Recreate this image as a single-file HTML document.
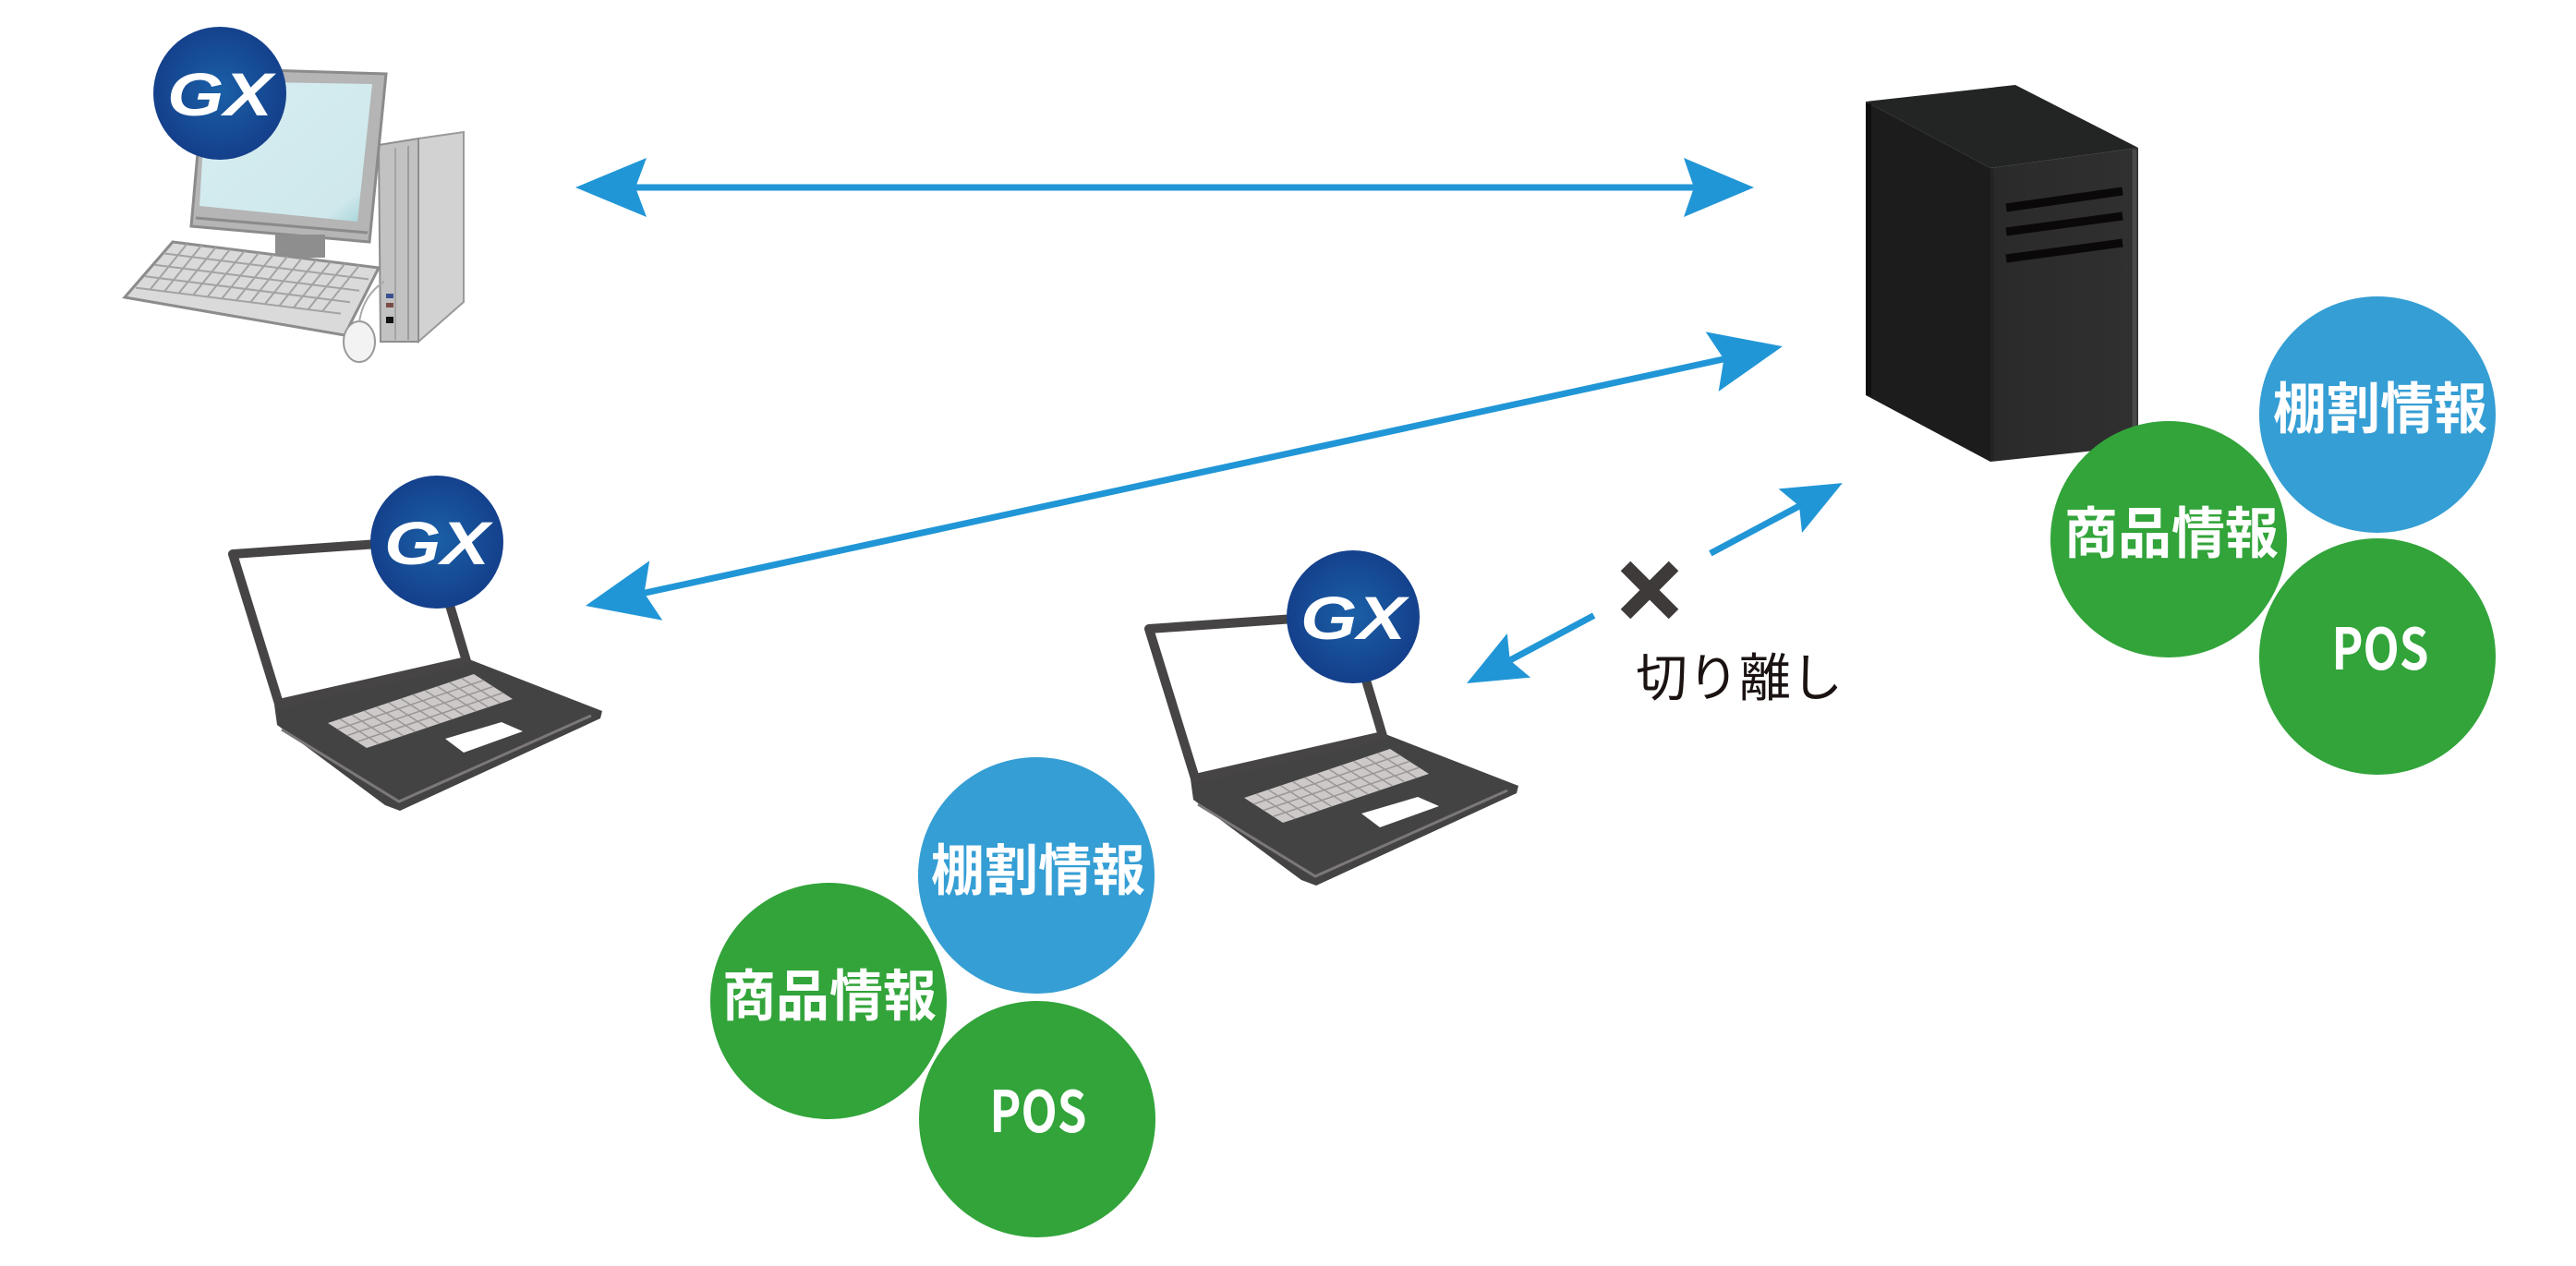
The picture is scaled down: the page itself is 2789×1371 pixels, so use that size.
<!DOCTYPE html>
<html><head><meta charset="utf-8">
<style>html,body{margin:0;padding:0;background:#fff;}svg{display:block;}</style>
</head>
<body>
<svg width="2789" height="1371" viewBox="0 0 2789 1371" xmlns="http://www.w3.org/2000/svg">
<defs>
  <radialGradient id="gx" cx="50%" cy="48%" r="55%">
    <stop offset="0" stop-color="#1a60a7"/>
    <stop offset="1" stop-color="#143d89"/>
  </radialGradient>
  <linearGradient id="scr" x1="0" y1="0" x2="1" y2="1">
    <stop offset="0" stop-color="#d6eef2"/>
    <stop offset="0.85" stop-color="#cfe8ec"/>
    <stop offset="1" stop-color="#9fd0d6"/>
  </linearGradient>
  <linearGradient id="srvFront" x1="0" y1="0" x2="1" y2="0">
    <stop offset="0" stop-color="#2a2a2a"/>
    <stop offset="1" stop-color="#303030"/>
  </linearGradient>
</defs>
<rect width="2789" height="1371" fill="#fff"/>

<!-- ===== Desktop PC ===== -->
<g>
  <!-- tower side -->
  <polygon points="453,150 502,143 502,327 453,370" fill="#d2d2d2" stroke="#9a9a9a" stroke-width="2"/>
  <!-- tower front strip -->
  <polygon points="410,157 453,150 453,370 412,370" fill="#c2c2c2" stroke="#8e8e8e" stroke-width="2"/>
  <line x1="428" y1="160" x2="428" y2="368" stroke="#a5a5a5" stroke-width="2"/>
  <line x1="442" y1="158" x2="442" y2="368" stroke="#9c9c9c" stroke-width="2"/>
  <rect x="418" y="318" width="8" height="5" fill="#3a4f90"/>
  <rect x="418" y="328" width="8" height="5" fill="#7a4a48"/>
  <rect x="418" y="343" width="8" height="7" fill="#111"/>
  <!-- monitor -->
  <polygon points="222,74 418,80 400,262 207,245" fill="#b5b5b5" stroke="#8b8b8b" stroke-width="3"/>
  <polygon points="224,88 403,91 387,240 216,223" fill="url(#scr)"/>
  <line x1="212" y1="236" x2="398" y2="252" stroke="#8a8a8a" stroke-width="3"/>
  <!-- stand -->
  <rect x="298" y="254" width="54" height="25" fill="#8e8e8e"/>
  <!-- keyboard -->
  <polygon points="187,262 410,290 373,363 135,322" fill="#dadada" stroke="#8c8c8c" stroke-width="3"/>
  <g transform="matrix(222,28,-50,62,187,262)">
    <path d="M0 0.2H1M0 0.4H1M0 0.6H1M0 0.8H1M0.07 0V0.8M0.14 0V0.8M0.21 0V0.8M0.28 0V0.8M0.35 0V0.8M0.42 0V0.8M0.49 0V0.8M0.56 0V0.8M0.63 0V0.8M0.70 0V0.8M0.77 0V0.8M0.84 0V0.8M0.91 0V0.8"
      stroke="#a3a3a3" stroke-width="2" fill="none" vector-effect="non-scaling-stroke"/>
  </g>
  <!-- mouse -->
  <ellipse cx="389" cy="370" rx="17" ry="22" fill="#f3f3f3" stroke="#999" stroke-width="2"/>
  <path d="M389 348 C392 330 400 315 416 305" stroke="#aaa" stroke-width="2" fill="none"/>
  <!-- GX badge -->
  <circle cx="238" cy="101" r="72" fill="url(#gx)"/>
  <text x="238" y="125" font-family="Liberation Sans, sans-serif" font-weight="bold" font-style="italic" font-size="66" fill="#fff" text-anchor="middle" textLength="114" lengthAdjust="spacingAndGlyphs">GX</text>
</g>

<!-- ===== Laptop 1 ===== -->
<g id="lap">
  <polygon points="297,763 508,714 652,770 650,778 433,878 417,872 300,785" fill="#434343"/>
  <polyline points="305,790 432,868 640,775" stroke="#7c7878" stroke-width="3" fill="none"/>
  <polygon points="252,600 466,585 505,716 302,762" fill="#fff" stroke="#464444" stroke-width="10" stroke-linejoin="round"/>
  <g transform="matrix(158,-53,42,27,355,783)">
    <rect width="1" height="1" fill="#cdc9c9"/>
    <path d="M0 0.25H1M0 0.5H1M0 0.75H1M0.083 0V1M0.166 0V1M0.25 0V1M0.333 0V1M0.416 0V1M0.5 0V1M0.583 0V1M0.666 0V1M0.75 0V1M0.833 0V1M0.916 0V1"
      stroke="#9a9696" stroke-width="1.5" fill="none" vector-effect="non-scaling-stroke"/>
  </g>
  <polygon points="482,800 543,782 566,792 502,815" fill="#fff"/>
  <circle cx="473" cy="587" r="72" fill="url(#gx)"/>
  <text x="473" y="611" font-family="Liberation Sans, sans-serif" font-weight="bold" font-style="italic" font-size="66" fill="#fff" text-anchor="middle" textLength="114" lengthAdjust="spacingAndGlyphs">GX</text>
</g>

<!-- ===== Laptop 2 (same shape, shifted) ===== -->
<g transform="translate(992,81)">
  <polygon points="297,763 508,714 652,770 650,778 433,878 417,872 300,785" fill="#434343"/>
  <polyline points="305,790 432,868 640,775" stroke="#7c7878" stroke-width="3" fill="none"/>
  <polygon points="252,600 466,585 505,716 302,762" fill="#fff" stroke="#464444" stroke-width="10" stroke-linejoin="round"/>
  <g transform="matrix(158,-53,42,27,355,783)">
    <rect width="1" height="1" fill="#cdc9c9"/>
    <path d="M0 0.25H1M0 0.5H1M0 0.75H1M0.083 0V1M0.166 0V1M0.25 0V1M0.333 0V1M0.416 0V1M0.5 0V1M0.583 0V1M0.666 0V1M0.75 0V1M0.833 0V1M0.916 0V1"
      stroke="#9a9696" stroke-width="1.5" fill="none" vector-effect="non-scaling-stroke"/>
  </g>
  <polygon points="482,800 543,782 566,792 502,815" fill="#fff"/>
  <circle cx="473" cy="587" r="72" fill="url(#gx)"/>
  <text x="473" y="611" font-family="Liberation Sans, sans-serif" font-weight="bold" font-style="italic" font-size="66" fill="#fff" text-anchor="middle" textLength="114" lengthAdjust="spacingAndGlyphs">GX</text>
</g>

<!-- ===== Server ===== -->
<g>
  <polygon points="2020,110 2182,92 2315,160 2155,182" fill="#232524"/>
  <polygon points="2020,110 2155,182 2155,500 2020,428" fill="#1b1c1b"/>
  <polygon points="2155,182 2315,160 2315,483 2155,500" fill="url(#srvFront)"/>
  <line x1="2023" y1="112" x2="2023" y2="428" stroke="#0e0e0e" stroke-width="6"/>
  <line x1="2311" y1="162" x2="2311" y2="482" stroke="#4a4a4a" stroke-width="5"/>
  <line x1="2157" y1="183" x2="2157" y2="499" stroke="#242424" stroke-width="4"/>
  <line x1="2172" y1="225" x2="2298" y2="207" stroke="#0a0808" stroke-width="9"/>
  <line x1="2172" y1="251" x2="2298" y2="234" stroke="#0a0808" stroke-width="9"/>
  <line x1="2172" y1="280" x2="2298" y2="263" stroke="#0a0808" stroke-width="9"/>
</g>

<!-- ===== Arrows ===== -->
<g fill="#2196d6">
  <!-- top horizontal -->
  <rect x="686" y="199.5" width="1150" height="7"/>
  <polygon points="623,203 700,171 688,203 700,235"/>
  <polygon points="1899,203 1823,171 1834,203 1823,235"/>
  <!-- second diagonal -->
  <g transform="translate(634,656) rotate(-12.23)">
    <rect x="62" y="-3.5" width="1202" height="7"/>
    <polygon points="0,0 78,-33 65,0 78,33"/>
    <polygon points="1326,0 1248,-33 1261,0 1248,33"/>
  </g>
  <!-- short broken arrow -->
  <g transform="translate(1588,740) rotate(-28.07)">
    <rect x="50" y="-3.5" width="106" height="7"/>
    <rect x="299" y="-3.5" width="112" height="7"/>
    <polygon points="0,0 64,-27 53,0 64,27"/>
    <polygon points="461,0 397,-27 408,0 397,27"/>
  </g>
</g>

<!-- ✕ and label -->
<g stroke="#3e3a39" stroke-width="15">
  <line x1="1760" y1="613" x2="1812" y2="665"/>
  <line x1="1812" y1="613" x2="1760" y2="665"/>
</g>
<text x="1883" y="754" font-family="Liberation Sans, 'Noto Sans CJK JP', sans-serif" font-size="56" fill="#1a1311" text-anchor="middle" textLength="224" lengthAdjust="spacingAndGlyphs">切り離し</text>

<!-- ===== Circles: right group ===== -->
<g font-family="'Noto Sans CJK JP', sans-serif" font-weight="700" fill="#fff" text-anchor="middle">
  <circle cx="2574" cy="449" r="128" fill="#359ed4"/>
  <circle cx="2348" cy="584" r="128" fill="#32a43a"/>
  <circle cx="2574" cy="711" r="128" fill="#32a43a"/>
  <text x="2577" y="464" font-size="60" textLength="232" lengthAdjust="spacingAndGlyphs">棚割情報</text>
  <text x="2351" y="599" font-size="60" textLength="232" lengthAdjust="spacingAndGlyphs">商品情報</text>
  <text x="2577" y="725" font-family="'Noto Sans CJK JP', 'Liberation Sans', sans-serif" font-size="62" textLength="105" lengthAdjust="spacingAndGlyphs">POS</text>
</g>

<!-- ===== Circles: bottom group ===== -->
<g font-family="'Noto Sans CJK JP', sans-serif" font-weight="700" fill="#fff" text-anchor="middle">
  <circle cx="1122" cy="948" r="128" fill="#359ed4"/>
  <circle cx="897" cy="1084" r="128" fill="#32a43a"/>
  <circle cx="1123" cy="1212" r="128" fill="#32a43a"/>
  <text x="1124" y="964" font-size="60" textLength="232" lengthAdjust="spacingAndGlyphs">棚割情報</text>
  <text x="898" y="1100" font-size="60" textLength="232" lengthAdjust="spacingAndGlyphs">商品情報</text>
  <text x="1124" y="1226" font-family="'Noto Sans CJK JP', 'Liberation Sans', sans-serif" font-size="62" textLength="105" lengthAdjust="spacingAndGlyphs">POS</text>
</g>
</svg>
</body></html>
